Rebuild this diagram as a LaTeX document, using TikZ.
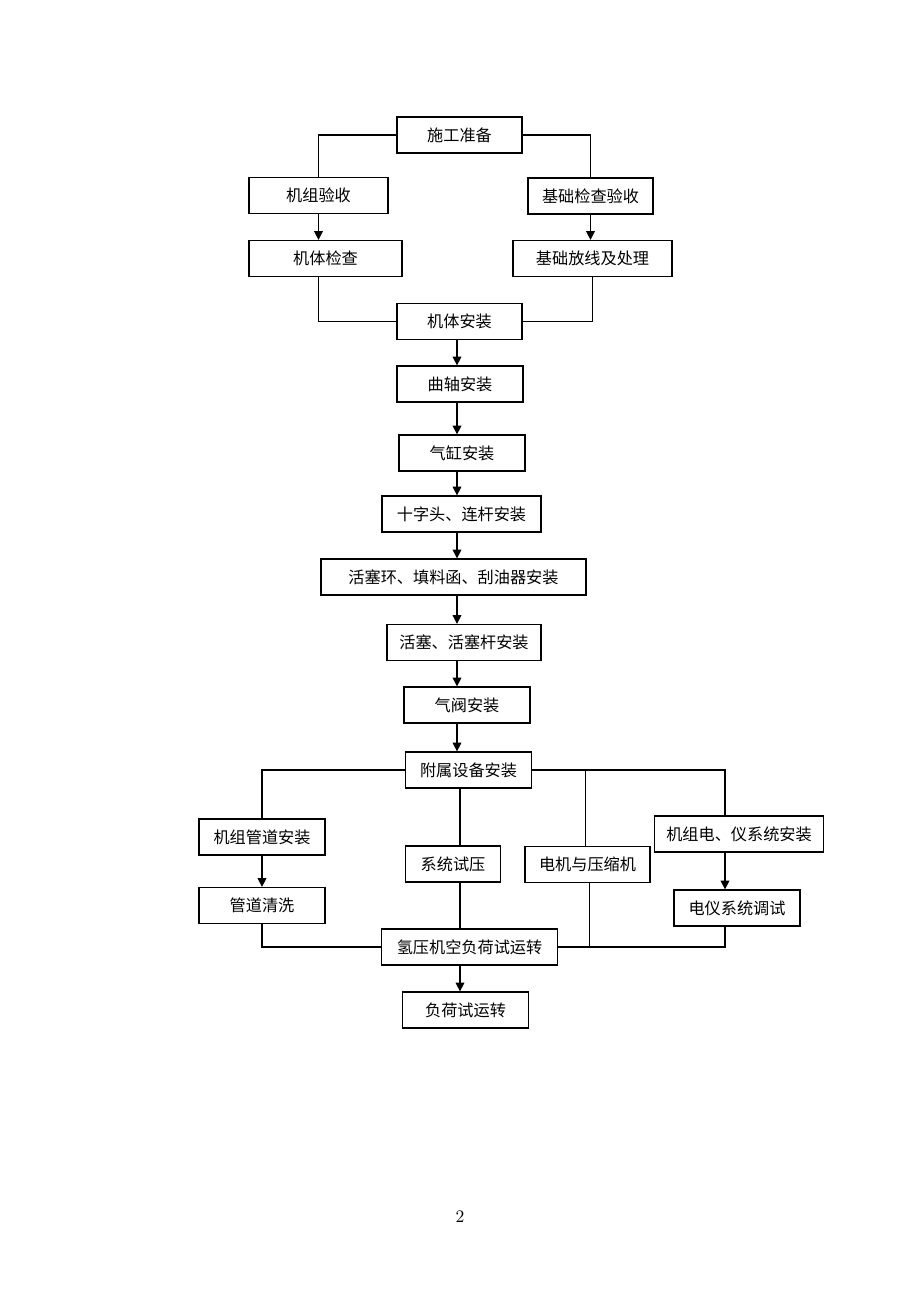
\documentclass[tikz,border=0pt]{standalone}
\usepackage{fontspec}
\newfontfamily\cjk{Noto Sans CJK SC}
\usetikzlibrary{arrows.meta}
\tikzset{
  box/.style={draw, line width=0.7pt, inner sep=0pt, minimum height=36*0.02cm,
    font=\cjk\fontsize{9.2}{11}\selectfont},
  boxw/.style={minimum width=#1*0.02cm},
  link/.style={line width=0.6pt},
  arr/.style={link, -{Triangle[length=5pt,width=5pt]}}
}
\begin{document}
\begin{tikzpicture}[x=0.02cm,y=-0.02cm]
      \useasboundingbox (0,0) rectangle (920,1302);
      % Preparation
      \node[box,boxw=125] (prep) at (459.5,135) {施工准备};
      \node[box,boxw=139] (jzys) at (318.5,195.5) {机组验收};
      \node[box,boxw=125] (jcys) at (590.5,196) {基础检查验收};
      \node[box,boxw=153] (jtjc) at (325.5,258.5) {机体检查};
      \node[box,boxw=159] (jcfx) at (592.5,258.5) {基础放线及处理};
      % Main line
      \node[box,boxw=125] (jtaz) at (459.5,321.5) {机体安装};
      \node[box,boxw=126] (qzaz) at (460,384) {曲轴安装};
      \node[box,boxw=126] (qgaz) at (462,453) {气缸安装};
      \node[box,boxw=159] (szt) at (461.5,514) {十字头、连杆安装};
      \node[box,boxw=265] (hsh) at (453.5,577) {活塞环、填料函、刮油器安装};
      \node[box,boxw=154] (hsg) at (464,642.5) {活塞、活塞杆安装};
      \node[box,boxw=126] (qfaz) at (467,705) {气阀安装};
      \node[box,boxw=126] (fs) at (468.5,770) {附属设备安装};
      % Branches
      \node[box,boxw=126] (gdaz) at (262,837) {机组管道安装};
      \node[box,boxw=126] (gdqx) at (262,905.5) {管道清洗};
      \node[box,boxw=95] (sy) at (453,864) {系统试压};
      \node[box,boxw=125] (dj) at (587.5,864.5) {电机与压缩机};
      \node[box,boxw=169] (jzd) at (739,834) {机组电、仪系统安装};
      \node[box,boxw=126] (dyts) at (737,908) {电仪系统调试};
      \node[box,boxw=176] (qyj) at (469.5,947) {氢压机空负荷试运转};
      \node[box,boxw=126] (fh) at (465.5,1010) {负荷试运转};
      % Page number
      \node[font=\fontsize{10}{12}\selectfont] (pagenum) at (460,1217) {2};
      \coordinate (spine) at (457,0);
      \coordinate (mid) at (460,0);
      \coordinate (rline) at (725,0);
      \coordinate (dtop) at (585.5,0);
      \coordinate (dbot) at (589.5,0);
      % Top connectors
      \draw[link] (prep.west) -| (jzys.north);
      \draw[link] (prep.east) -| (jcys.north);
      \draw[arr] (jzys.south) -- (jzys.south |- jtjc.north);
      \draw[arr] (jcys.south) -- (jcys.south |- jcfx.north);
      \draw[link] (jtjc.south -| jzys.south) |- (jtaz.west);
      \draw[link] (jcfx.south) |- (jtaz.east);
      % Main arrows
      \foreach \a/\b in {jtaz/qzaz,qzaz/qgaz,qgaz/szt,szt/hsh,hsh/hsg,hsg/qfaz,qfaz/fs}
        \draw[arr] (\a.south -| spine) -- (\b.north -| spine);
      % Bottom connectors
      \draw[link] (fs.west) -| (gdaz.north);
      \draw[arr] (gdaz) -- (gdqx);
      \draw[link] (gdqx.south) |- (qyj.west);
      \draw[link] (fs.south -| mid) -- (sy.north -| mid);
      \draw[link] (sy.south -| mid) -- (qyj.north -| mid);
      \draw[link] (fs.east) -- (fs.east -| rline) -- (jzd.north -| rline);
      \draw[link] (fs.east -| dtop) -- (dj.north -| dtop);
      \draw[arr] (jzd.south -| rline) -- (dyts.north -| rline);
      \draw[link] (dyts.south -| rline) |- (qyj.east);
      \draw[link] (dj.south -| dbot) -- (qyj.east -| dbot);
      \draw[arr] (qyj.south -| mid) -- (fh.north -| mid);
\end{tikzpicture}
\end{document}
